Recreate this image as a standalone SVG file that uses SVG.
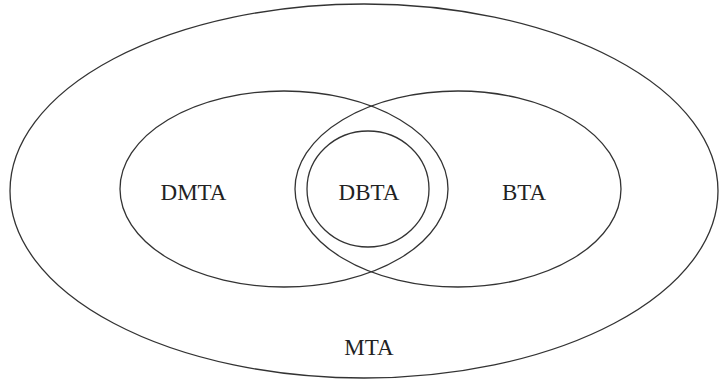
<svg xmlns="http://www.w3.org/2000/svg" width="720" height="380" viewBox="0 0 720 380">
<style>
.s{fill:none;stroke:#333;stroke-width:1.3}
.t{font-family:"Liberation Serif","Times New Roman",serif;font-size:23px;fill:#222;text-anchor:middle}
</style>
<rect width="720" height="380" fill="#fff"/>
<g id="MTA">
<ellipse class="s" cx="364" cy="191" rx="354" ry="187"/>
<text class="t" x="369" y="355">MTA</text>
</g>
<g id="DMTA">
<ellipse class="s" cx="284" cy="189" rx="164" ry="98"/>
<text class="t" x="193.5" y="200">DMTA</text>
</g>
<g id="BTA">
<ellipse class="s" cx="458" cy="189" rx="163" ry="98"/>
<text class="t" x="524" y="200">BTA</text>
</g>
<g id="DBTA">
<ellipse class="s" cx="368" cy="189" rx="61" ry="58"/>
<text class="t" x="369" y="200">DBTA</text>
</g>
<g id="connectors"/>
</svg>
